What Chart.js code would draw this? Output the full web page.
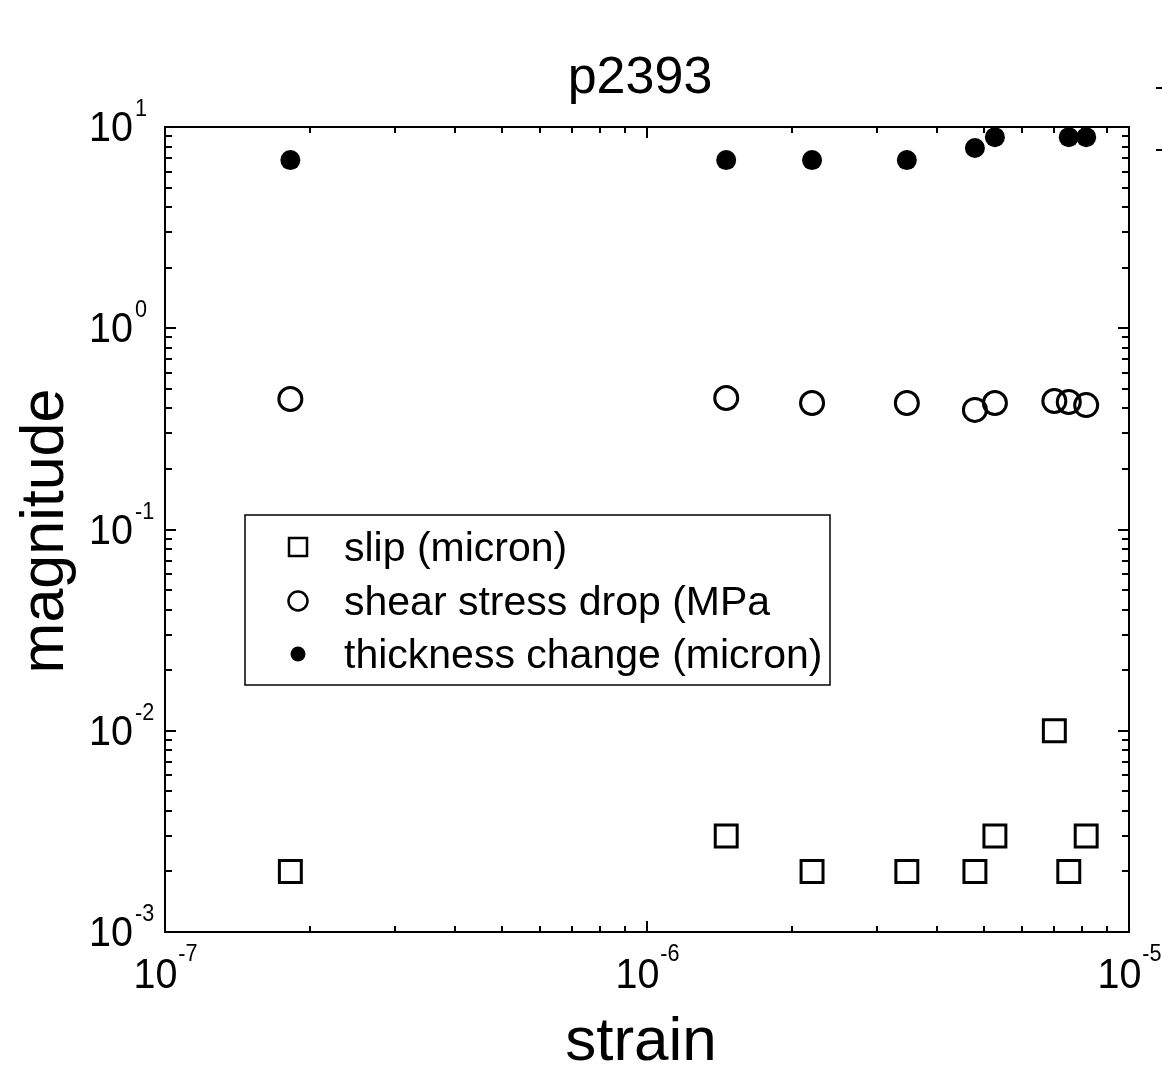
<!DOCTYPE html>
<html>
<head>
<meta charset="utf-8">
<script src="https://cdn.jsdelivr.net/npm/chart.js@4.4.1/dist/chart.umd.min.js"></script>
<style>
  html, body { margin: 0; padding: 0; background: #fff; }
  canvas { display: block; }
</style>
</head>
<body>
<canvas id="myChart" width="1162" height="1067"></canvas>
<script>
// data
var strain     = [1.82e-7, 1.46e-6, 2.2e-6, 3.46e-6, 4.79e-6, 5.27e-6, 7.0e-6, 7.5e-6, 8.15e-6];
var slip       = [0.002, 0.003, 0.002, 0.002, 0.002, 0.003, 0.01, 0.002, 0.003];
var stressDrop = [0.445, 0.45, 0.425, 0.425, 0.393, 0.425, 0.435, 0.43, 0.415];
var thickness  = [6.85, 6.85, 6.85, 6.85, 7.86, 8.9, null, 8.9, 8.9];
var seriesNames = ['slip (micron)', 'shear stress drop (MPa', 'thickness change (micron)'];
var xTickExps = [-7, -6, -5];
var yTickExps = [-3, -2, -1, 0, 1];

var FONT = '"Liberation Sans", Arial, Helvetica, sans-serif';

function pts(ys) {
    var out = [];
    for (var i = 0; i < strain.length; i++) {
        if (ys[i] !== null) out.push({ x: strain[i], y: ys[i] });
    }
    return out;
}

// frame, inward log ticks, labels, legend and titles
var decorPlugin = {
    id: 'decor',
    afterDraw: function (chart) {
        var ctx = chart.ctx;
        var a = chart.chartArea;
        var xs = chart.scales.x, ys = chart.scales.y;
        ctx.save();
        ctx.strokeStyle = '#000';
        ctx.fillStyle = '#000';
        ctx.lineWidth = 2;
        ctx.strokeRect(a.left, a.top, a.right - a.left, a.bottom - a.top);

        ctx.beginPath();
        for (var e = xTickExps[0]; e <= xTickExps[xTickExps.length - 1]; e++) {
            for (var m = 1; m <= 9; m++) {
                var v = m * Math.pow(10, e);
                if (v > xs.max * 1.0001) break;
                var len = m === 1 ? 11 : 6;
                var px = Math.round(xs.getPixelForValue(v));
                ctx.moveTo(px, a.bottom); ctx.lineTo(px, a.bottom - len);
                ctx.moveTo(px, a.top); ctx.lineTo(px, a.top + len);
            }
        }
        for (var e2 = yTickExps[0]; e2 <= yTickExps[yTickExps.length - 1]; e2++) {
            for (var m2 = 1; m2 <= 9; m2++) {
                var v2 = m2 * Math.pow(10, e2);
                if (v2 > ys.max * 1.0001) break;
                var len2 = m2 === 1 ? 11 : 7;
                var py = Math.round(ys.getPixelForValue(v2));
                ctx.moveTo(a.left, py); ctx.lineTo(a.left + len2, py);
                ctx.moveTo(a.right, py); ctx.lineTo(a.right - len2, py);
            }
        }
        ctx.stroke();

        // tick labels 10^n
        var SQ = 0.94;
        function base(txt, x, y) {
            ctx.save();
            ctx.translate(x, y);
            ctx.scale(SQ, 1);
            ctx.fillText(txt, 0, 0);
            ctx.restore();
        }
        ctx.textBaseline = 'alphabetic';
        ctx.textAlign = 'left';
        xTickExps.forEach(function (ex) {
            var px = xs.getPixelForValue(Math.pow(10, ex));
            ctx.font = '42px ' + FONT;
            var w1 = ctx.measureText('10').width * SQ;
            ctx.font = '23px ' + FONT;
            var w2 = ctx.measureText(String(ex)).width * SQ;
            var x0 = px - (w1 + w2) / 2;
            ctx.font = '42px ' + FONT;
            base('10', x0, a.bottom + 56);
            ctx.font = '23px ' + FONT;
            base(String(ex), x0 + w1 + 1, a.bottom + 29);
        });
        yTickExps.forEach(function (ex) {
            var py = ys.getPixelForValue(Math.pow(10, ex));
            ctx.font = '42px ' + FONT;
            var w1 = ctx.measureText('10').width * SQ;
            base('10', 133 - w1, py + 14);
            ctx.font = '23px ' + FONT;
            base(String(ex), 135, py - 11);
        });

        // title and axis titles
        ctx.textAlign = 'center';
        ctx.font = '52px ' + FONT;
        ctx.fillText('p2393', 640, 93);
        ctx.font = '62px ' + FONT;
        ctx.fillText('strain', 641, 1060);
        ctx.save();
        ctx.translate(63, 531);
        ctx.rotate(-Math.PI / 2);
        ctx.font = '61px ' + FONT;
        ctx.fillText('magnitude', 0, 0);
        ctx.restore();

        // legend box
        ctx.lineWidth = 1.5;
        ctx.strokeRect(245, 515, 585, 170);
        ctx.textAlign = 'left';
        ctx.font = '41px ' + FONT;
        var rows = [547, 601, 654];
        ctx.lineWidth = 2.5;
        ctx.strokeRect(289, rows[0] - 9, 18, 18);
        ctx.beginPath(); ctx.arc(298, rows[1], 9.5, 0, Math.PI * 2); ctx.stroke();
        ctx.beginPath(); ctx.arc(298, rows[2], 7.5, 0, Math.PI * 2); ctx.fill();
        seriesNames.forEach(function (name, i) {
            ctx.fillText(name, 344, rows[i] + 14);
        });

        // clipped marks at the right edge
        ctx.lineWidth = 2;
        ctx.beginPath();
        ctx.moveTo(1156, 88); ctx.lineTo(1162, 88);
        ctx.moveTo(1156, 150); ctx.lineTo(1162, 150);
        ctx.stroke();
        ctx.restore();
    }
};

var ctx = document.getElementById('myChart').getContext('2d');
var myChart = new Chart(ctx, {
    type: 'scatter',
    data: {
        datasets: [{
            label: seriesNames[0],
            data: pts(slip),
            pointStyle: 'rect',
            pointRadius: 15.5,
            pointBorderWidth: 3,
            borderColor: '#000',
            backgroundColor: 'rgba(0,0,0,0)',
            clip: false
        }, {
            label: seriesNames[1],
            data: pts(stressDrop),
            pointStyle: 'circle',
            pointRadius: 11.5,
            pointBorderWidth: 3,
            borderColor: '#000',
            backgroundColor: 'rgba(0,0,0,0)',
            clip: false
        }, {
            label: seriesNames[2],
            data: pts(thickness),
            pointStyle: 'circle',
            pointRadius: 10,
            pointBorderWidth: 0,
            borderColor: '#000',
            backgroundColor: '#000',
            clip: false
        }]
    },
    options: {
        responsive: false,
        animation: false,
        devicePixelRatio: 1,
        layout: {
            padding: { left: 165, top: 127, right: 33, bottom: 135 }
        },
        plugins: {
            legend: { display: false },
            tooltip: { enabled: false }
        },
        scales: {
            x: {
                type: 'logarithmic',
                min: 1e-7,
                max: 1e-5,
                display: false
            },
            y: {
                type: 'logarithmic',
                min: 1e-3,
                max: 10,
                display: false
            }
        }
    },
    plugins: [decorPlugin]
});
</script>
</body>
</html>
